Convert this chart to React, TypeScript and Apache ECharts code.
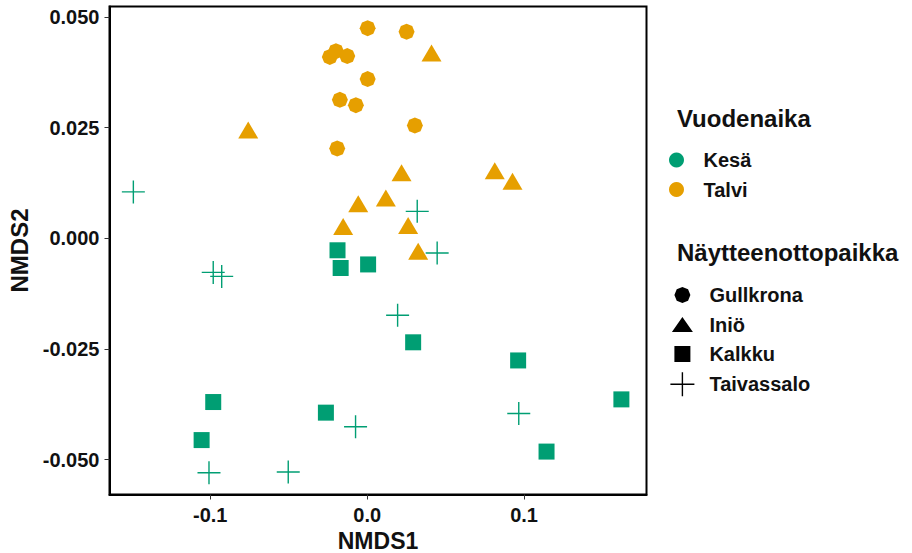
import React, { useEffect, useRef } from "react";
import * as echarts from "echarts";

// ---- data ----
const SITES = ["Gullkrona", "Iniö", "Kalkku", "Taivassalo"];
const SEASONS = ["Kesä", "Talvi"];
const SITE_SEASON = ["Talvi", "Talvi", "Kesä", "Kesä"];

const gullkronaX = [0.0003, -0.0238, -0.0199, -0.0127, 0.0003, -0.0174, -0.0072, -0.0191, 0.0251, 0.0304];
const gullkronaY = [0.0475, 0.0410, 0.0423, 0.0412, 0.036, 0.0313, 0.0301, 0.0203, 0.0467, 0.0255];

const inioX = [-0.0758, -0.0057, -0.0153, 0.041, 0.0219, 0.0119, 0.0261, 0.0325, 0.0813, 0.0926];
const inioY = [0.0245, 0.0078, 0.0027, 0.0419, 0.0148, 0.0091, 0.0029, -0.0029, 0.0153, 0.0129];

const kalkkuX = [-0.0189, -0.0169, 0.0006, -0.0981, -0.1055, -0.0263, 0.0293, 0.0962, 0.162, 0.1143];
const kalkkuY = [-0.0027, -0.0067, -0.0059, -0.037, -0.0456, -0.0394, -0.0235, -0.0276, -0.0364, -0.0482];

const taivassaloX = [-0.149, -0.0981, -0.0927, -0.1008, -0.0503, -0.0074, 0.0319, 0.0446, 0.0194, 0.0966];
const taivassaloY = [0.0105, -0.0077, -0.0086, -0.053, -0.0528, -0.0426, 0.0061, -0.0033, -0.0174, -0.0396];

const X_TICKS = [-0.1, 0, 0.1];
const X_TICK_LABELS = ["-0.1", "0.0", "0.1"];
const Y_TICKS = [-0.05, -0.025, 0, 0.025, 0.05];
const Y_TICK_LABELS = ["-0.050", "-0.025", "0.000", "0.025", "0.050"];

const SEASON_COLORS: Record<string, string> = { "Kesä": "#009E73", Talvi: "#E69F00" };

// ---- symbols ----
const OCTAGON = "path://M12,4L17.66,6.34L20,12L17.66,17.66L12,20L6.34,17.66L4,12L6.34,6.34Z";
const PLUS = "path://M12,0L12,24M0,12L24,12";
const SPECKS = "M0,0L0.01,0L0.01,0.01ZM23.99,23.99L24,23.99L24,24Z";
const LEG_OCT = "path://M12,4L17.66,6.34L20,12L17.66,17.66L12,20L6.34,17.66L4,12L6.34,6.34Z" + SPECKS;
const LEG_TRI = "path://M1.5,19.5L12,4.5L22.5,19.5Z" + SPECKS;
const LEG_SQ = "path://M4,4L20,4L20,20L4,20Z" + SPECKS;

const FONT = "Liberation Sans, Arial, sans-serif";

function zip(xs: number[], ys: number[]) {
  return xs.map((x, i) => [x, ys[i]]);
}

function tickLabel(v: number, ticks: number[], labels: string[]) {
  const i = ticks.findIndex((t) => Math.abs(t - v) < 1e-9);
  return i >= 0 ? labels[i] : "";
}

export default function App() {
  const ref = useRef<HTMLDivElement>(null);
  useEffect(() => {
    if (!ref.current) return;
    const chart = echarts.init(ref.current, undefined, { renderer: "svg" });
    const siteData = [
      zip(gullkronaX, gullkronaY),
      zip(inioX, inioY),
      zip(kalkkuX, kalkkuY),
      zip(taivassaloX, taivassaloY),
    ];
    const siteSymbols: any[] = [OCTAGON, "triangle", "rect", PLUS];
    const siteSizes: any[] = [16, [20, 17], 16, 23];

    const series: any[] = SITES.map((name, i) => {
      const color = SEASON_COLORS[SITE_SEASON[i]];
      const isPlus = name === "Taivassalo";
      return {
        name,
        type: "scatter",
        data: siteData[i],
        symbol: siteSymbols[i],
        symbolSize: siteSizes[i],
        itemStyle: isPlus
          ? { color: "transparent", borderColor: color, borderWidth: 1.4, opacity: 1 }
          : { color, opacity: 1 },
        emphasis: { disabled: true },
        z: 3,
      };
    });
    SEASONS.forEach((s) => {
      series.push({ name: s, type: "scatter", data: [], itemStyle: { color: SEASON_COLORS[s], opacity: 1 } });
    });

    const legendText = { fontFamily: FONT, fontWeight: "bold", fontSize: 20, color: "#111", lineHeight: 20 };

    chart.setOption({
      animation: false,
      backgroundColor: "#ffffff",
      grid: {
        left: 109.5,
        top: 6.5,
        width: 537,
        height: 488,
        show: true,
        borderColor: "#000",
        borderWidth: 2,
        backgroundColor: "transparent",
        containLabel: false,
        outerBoundsMode: "none",
      },
      xAxis: {
        type: "value",
        min: -0.1642,
        max: 0.178,
        name: "NMDS1",
        nameLocation: "middle",
        nameGap: 34,
        nameTextStyle: { fontFamily: FONT, fontWeight: "bold", fontSize: 23, lineHeight: 20, color: "#111" },
        axisLine: { show: true, onZero: false, lineStyle: { color: "#000", width: 2 } },
        axisTick: { show: true, length: 5, customValues: X_TICKS, lineStyle: { color: "#333", width: 1 } },
        axisLabel: {
          customValues: X_TICKS,
          formatter: (v: number) => tickLabel(v, X_TICKS, X_TICK_LABELS),
          fontFamily: FONT,
          fontWeight: "bold",
          fontSize: 20,
          color: "#111",
          margin: 10,
        },
        splitLine: { show: false },
      },
      yAxis: {
        type: "value",
        min: -0.0579,
        max: 0.0524,
        name: "NMDS2",
        nameLocation: "middle",
        nameGap: 72,
        nameTextStyle: { fontFamily: FONT, fontWeight: "bold", fontSize: 24, color: "#111" },
        axisLine: { show: true, onZero: false, lineStyle: { color: "#000", width: 2 } },
        axisTick: { show: true, length: 5, customValues: Y_TICKS, lineStyle: { color: "#333", width: 1 } },
        axisLabel: {
          customValues: Y_TICKS,
          formatter: (v: number) => tickLabel(v, Y_TICKS, Y_TICK_LABELS),
          fontFamily: FONT,
          fontWeight: "bold",
          fontSize: 20,
          color: "#111",
          margin: 10,
        },
        splitLine: { show: false },
      },
      legend: [
        {
          orient: "vertical",
          left: 669,
          top: 150,
          padding: 0,
          itemWidth: 44,
          itemHeight: 15,
          itemGap: 9.5,
          symbolKeepAspect: true,
          selectedMode: false,
          textStyle: legendText,
          data: SEASONS.map((s) => ({
            name: s,
            icon: "circle",
            itemStyle: { color: SEASON_COLORS[s], opacity: 1 },
          })),
        },
        {
          orient: "vertical",
          left: 669.7,
          top: 283,
          padding: 0,
          itemWidth: 44,
          itemHeight: 24,
          itemGap: 5.5,
          symbolKeepAspect: true,
          selectedMode: false,
          textStyle: legendText,
          data: [
            { name: "Gullkrona", icon: LEG_OCT, itemStyle: { color: "#000", borderWidth: 0, opacity: 1 } },
            { name: "Iniö", icon: LEG_TRI, itemStyle: { color: "#000", borderWidth: 0, opacity: 1 } },
            { name: "Kalkku", icon: LEG_SQ, itemStyle: { color: "#000", borderWidth: 0, opacity: 1 } },
            {
              name: "Taivassalo",
              icon: PLUS,
              itemStyle: { color: "transparent", borderColor: "#000", borderWidth: 1.4, opacity: 1 },
            },
          ],
        },
      ],
      graphic: [
        {
          type: "text",
          left: 677,
          top: 106,
          style: { text: "Vuodenaika", fontFamily: FONT, fontWeight: "bold", fontSize: 24, fill: "#111" },
        },
        {
          type: "text",
          left: 677,
          top: 240,
          style: { text: "Näytteenottopaikka", fontFamily: FONT, fontWeight: "bold", fontSize: 24, fill: "#111" },
        },
      ],
      series,
    });
    return () => chart.dispose();
  }, []);
  return (
    <div
      ref={ref}
      style={{ position: "fixed", left: 0, top: 0, width: 912, height: 553, background: "#fff" }}
    />
  );
}
